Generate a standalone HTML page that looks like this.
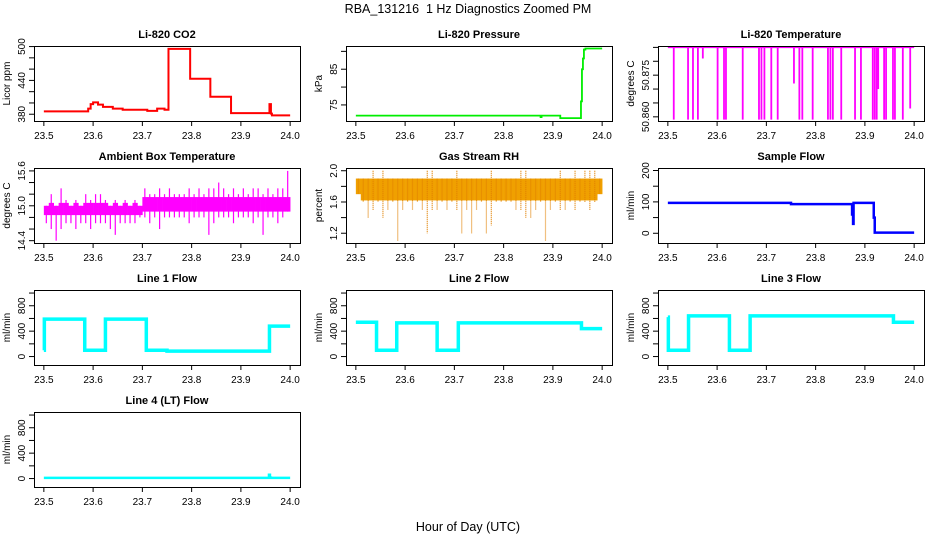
<!DOCTYPE html>
<html><head><meta charset="utf-8"><title>RBA_131216 1 Hz Diagnostics Zoomed PM</title>
<style>
html,body{margin:0;padding:0;background:#fff;}
svg{display:block;font-family:"Liberation Sans",Arial,sans-serif;}
</style></head>
<body>
<svg id="chart" width="936" height="540" viewBox="0 0 936 540">
<text x="468" y="13" text-anchor="middle" font-size="12.5" style="white-space:pre">RBA_131216  1 Hz Diagnostics Zoomed PM</text>
<text x="468" y="531" text-anchor="middle" font-size="12.5">Hour of Day (UTC)</text>
</svg>
<script>
// ---- data arrays ----
const xTicks = [23.5, 23.6, 23.7, 23.8, 23.9, 24.0];
const xTickLabels = ["23.5","23.6","23.7","23.8","23.9","24.0"];

const co2T = [23.50,23.59,23.595,23.60,23.61,23.62,23.64,23.66,23.71,23.73,23.745,23.753,23.797,23.838,23.88,23.958,23.961,23.963];
const co2V = [385,390,398,401,397,393,390,388,386,390,388,496,443,411,382,398,381,378];
const co2Ticks = [380,400,420,440,460,480,500];
const co2Labels = ["380","","","440","","","500"];

const presT = [23.5,23.875,23.877,23.915,23.957,23.959,23.961,23.963,23.966];
const presV = [72,71.6,72,71.3,76,85,88,90.5,90.8];
const presTicks = [75,80,85,90];
const presLabels = ["75","","85",""];

const liTempBase = 50.885;
const liDipT = [23.512,23.541,23.551,23.561,23.571,23.601,23.614,23.618,23.652,23.685,23.690,23.696,23.710,23.723,23.756,23.767,23.773,23.794,23.825,23.830,23.835,23.852,23.880,23.892,23.916,23.920,23.924,23.927,23.939,23.943,23.957,23.961,23.977,23.992];
const liDipV = [50.859,50.859,50.859,50.859,50.881,50.859,50.859,50.859,50.859,50.859,50.859,50.859,50.859,50.859,50.872,50.859,50.859,50.859,50.859,50.859,50.859,50.859,50.859,50.859,50.859,50.859,50.859,50.870,50.859,50.859,50.859,50.859,50.859,50.863];
const liTicks = [50.860,50.865,50.870,50.875,50.880,50.885];
const liLabels = ["50.860","","","50.875","",""];

const ambT0 = 23.5, ambStep = 0.01;
const ambHi = [15.0,15.2,15.0,15.3,15.1,15.0,15.1,15.0,15.2,15.1,15.2,15.2,15.1,15.0,15.1,15.0,15.1,15.0,15.1,15.0,15.3,15.2,15.2,15.3,15.2,15.3,15.2,15.2,15.2,15.3,15.2,15.3,15.2,15.3,15.3,15.4,15.3,15.2,15.3,15.2,15.3,15.2,15.3,15.3,15.2,15.3,15.2,15.3,15.3,15.6];
const ambLo = [14.7,14.6,14.4,14.6,14.7,14.7,14.6,14.7,14.7,14.6,14.7,14.7,14.7,14.6,14.5,14.7,14.7,14.7,14.7,14.8,14.8,14.7,14.8,14.6,14.8,14.8,14.8,14.8,14.8,14.7,14.8,14.8,14.8,14.5,14.7,14.8,14.8,14.8,14.7,14.8,14.8,14.8,14.7,14.8,14.5,14.8,14.8,14.7,14.8,14.9];
const ambTicks = [14.4,14.6,14.8,15.0,15.2,15.4,15.6];
const ambLabels = ["14.4","","","15.0","","","15.6"];

const rhT0 = 23.5, rhStep = 0.01;
const rhHi = [1.9,1.9,1.9,2.0,1.9,2.0,1.9,1.9,1.9,1.9,1.9,1.9,1.9,1.9,2.0,2.0,1.9,1.9,1.9,1.9,2.0,1.9,1.9,1.9,1.9,1.9,1.9,2.0,1.9,1.9,1.9,1.9,1.9,2.0,2.0,1.9,1.9,1.9,1.9,1.9,1.9,2.0,1.9,1.9,2.0,1.9,2.0,2.0,2.0,1.9];
const rhLo = [1.7,1.6,1.4,1.5,1.6,1.4,1.5,1.6,1.1,1.5,1.6,1.5,1.6,1.5,1.2,1.5,1.5,1.6,1.5,1.6,1.5,1.2,1.5,1.2,1.5,1.6,1.2,1.3,1.6,1.6,1.6,1.6,1.5,1.5,1.4,1.4,1.5,1.6,1.1,1.5,1.6,1.5,1.5,1.6,1.5,1.6,1.6,1.5,1.6,1.7];
const rhTicks = [1.2,1.4,1.6,1.8,2.0];
const rhLabels = ["1.2","","1.6","","2.0"];

const sampT = [23.5,23.75,23.874,23.876,23.877,23.918,23.92];
const sampV = [97,93,60,30,97,50,2];
const sampTicks = [0,50,100,150,200];
const sampLabels = ["0","","100","","200"];

const l1T = [23.5,23.501,23.583,23.625,23.708,23.75,23.958];
const l1V = [100,590,100,590,100,85,480];
const l2T = [23.5,23.542,23.583,23.665,23.708,23.958];
const l2V = [540,100,530,100,530,440];
const l3T = [23.5,23.501,23.542,23.625,23.667,23.958];
const l3V = [620,100,640,100,640,540];
const l4T = [23.5,23.957,23.959,23.961];
const l4V = [10,60,15,10];
const flowTicks = [0,200,400,600,800,1000];
const flowLabels = ["0","","400","","800",""];

// ---- layout ----
const NS = "http://www.w3.org/2000/svg";
const svg = document.getElementById("chart");
const colX = [34, 346, 658], rowY = [46, 168, 290, 412], PW = 266, PH = 75;
const X0 = 23.48, X1 = 24.02;

function el(tag, attrs, parent) {
  const e = document.createElementNS(NS, tag);
  for (const k in attrs) e.setAttribute(k, attrs[k]);
  (parent || svg).appendChild(e);
  return e;
}

function makePanel(name, col, row, title, ylab, ylim, ticks, labels) {
  const g = el("g", {});
  
  
  const bx = colX[col], by = rowY[row];
  const sx = t => bx + (t - X0) / (X1 - X0) * PW;
  const sy = v => by + PH - (v - ylim[0]) / (ylim[1] - ylim[0]) * PH;
  const t = el("text", {x: bx + PW / 2, y: by - 8, "text-anchor": "middle", "font-size": 11, "font-weight": "bold"}, g);
  t.textContent = title;
  
  
  const yl = el("text", {transform: `translate(${bx - 24},${by + PH / 2}) rotate(-90)`, "text-anchor": "middle", "font-size": 10}, g);
  yl.textContent = ylab;
  
  
  const xa = el("g", {}, g);
  
  
  el("line", {x1: sx(xTicks[0]), x2: sx(xTicks[xTicks.length - 1]), y1: by + PH + 0.5, y2: by + PH + 0.5, stroke: "#000"}, xa);
  xTicks.forEach((v, i) => {
    el("line", {x1: sx(v), x2: sx(v), y1: by + PH, y2: by + PH + 5, stroke: "#000"}, xa);
    const tl = el("text", {x: sx(v), y: by + PH + 18, "text-anchor": "middle", "font-size": 10}, xa);
    tl.textContent = xTickLabels[i];
    
    
  });
  const ya = el("g", {}, g);
  
  
  ticks.forEach((v, i) => {
    el("line", {x1: bx - 5, x2: bx, y1: sy(v), y2: sy(v), stroke: "#000"}, ya);
    if (labels[i]) {
      const tl = el("text", {transform: `translate(${bx - 9},${sy(v)}) rotate(-90)`, "text-anchor": "middle", "font-size": 10}, ya);
      tl.textContent = labels[i];
      
      
    }
  });
  const cg = el("g", {}, g);
  const box = el("rect", {x: bx + 0.5, y: by + 0.5, width: PW, height: PH, fill: "none", stroke: "#000"}, g);
  
  
  return {g: cg, sx, sy};
}

function stepPath(p, ts, vs, tEnd) {
  let d = `M${p.sx(ts[0])},${p.sy(vs[0])}`;
  for (let i = 1; i < ts.length; i++) d += ` H${p.sx(ts[i])} V${p.sy(vs[i])}`;
  d += ` H${p.sx(tEnd)}`;
  return d;
}

function stepSeries(p, name, ts, vs, color, w) {
  const s = el("path", {d: stepPath(p, ts, vs, 24.0), fill: "none", stroke: color, "stroke-width": w}, p.g);
  
  
}

let p = makePanel("co2", 0, 0, "Li-820 CO2", "Licor ppm", [368, 501], co2Ticks, co2Labels);
stepSeries(p, "co2-series", co2T, co2V, "#ff0000", 2);

p = makePanel("pressure", 1, 0, "Li-820 Pressure", "kPa", [70.5, 91.5], presTicks, presLabels);
stepSeries(p, "pressure-series", presT, presV, "#00ee00", 1.8);

p = makePanel("li820-temp", 2, 0, "Li-820 Temperature", "degrees C", [50.8585, 50.8855], liTicks, liLabels);
{
  const base = el("line", {x1: p.sx(23.5), x2: p.sx(24.0), y1: p.sy(liTempBase), y2: p.sy(liTempBase), stroke: "#ff00ff", "stroke-width": 1.5}, p.g);
  
  
  liDipT.forEach((t, i) => {
    const d = el("line", {x1: p.sx(t), x2: p.sx(t), y1: p.sy(liTempBase), y2: p.sy(liDipV[i]), stroke: "#ff00ff", "stroke-width": 1.8}, p.g);
    
    
  });
}

p = makePanel("ambient-temp", 0, 1, "Ambient Box Temperature", "degrees C", [14.36, 15.65], ambTicks, ambLabels);
ambHi.forEach((h, i) => {
  const t = ambT0 + i * ambStep;
  const top = Math.min(h, 15.05 + (i >= 20 ? 0.1 : 0));
  const bot = 14.84 + (i >= 20 ? 0.06 : 0);
  const b = el("rect", {x: p.sx(t), y: p.sy(top), width: p.sx(t + ambStep) - p.sx(t) + 0.3, height: p.sy(bot) - p.sy(top), fill: "#ff00ff"}, p.g);
  
  
  const s = el("line", {x1: p.sx(t + ambStep / 2), x2: p.sx(t + ambStep / 2), y1: p.sy(h), y2: p.sy(ambLo[i]), stroke: "#ff00ff", "stroke-width": 1.2}, p.g);
  
  
});

p = makePanel("rh", 1, 1, "Gas Stream RH", "percent", [1.075, 2.035], rhTicks, rhLabels);
rhHi.forEach((h, i) => {
  const t = rhT0 + i * rhStep;
  const b = el("rect", {x: p.sx(t), y: p.sy(Math.min(h, 1.9)), width: p.sx(t + rhStep) - p.sx(t) + 0.3, height: p.sy(Math.max(rhLo[i], 1.62)) - p.sy(Math.min(h, 1.9)), fill: "#f0a000"}, p.g);
  
  
  const s = el("line", {x1: p.sx(t + rhStep / 2), x2: p.sx(t + rhStep / 2), y1: p.sy(h), y2: p.sy(rhLo[i]), stroke: "#e08000", "stroke-width": 1.2, "stroke-dasharray": "1,1"}, p.g);
  
  
});

p = makePanel("sample-flow", 2, 1, "Sample Flow", "ml/min", [-31, 208], sampTicks, sampLabels);
stepSeries(p, "sample-flow-series", sampT, sampV, "#0000ff", 2.5);

p = makePanel("line1-flow", 0, 2, "Line 1 Flow", "ml/min", [-133, 1048], flowTicks, flowLabels);
stepSeries(p, "line1-flow-series", l1T, l1V, "#00ffff", 3.5);
p = makePanel("line2-flow", 1, 2, "Line 2 Flow", "ml/min", [-133, 1048], flowTicks, flowLabels);
stepSeries(p, "line2-flow-series", l2T, l2V, "#00ffff", 3.5);
p = makePanel("line3-flow", 2, 2, "Line 3 Flow", "ml/min", [-133, 1048], flowTicks, flowLabels);
stepSeries(p, "line3-flow-series", l3T, l3V, "#00ffff", 3.5);
p = makePanel("line4-flow", 0, 3, "Line 4 (LT) Flow", "ml/min", [-133, 1048], flowTicks, flowLabels);
stepSeries(p, "line4-flow-series", l4T, l4V, "#00ffff", 2.5);
</script>
</body></html>
